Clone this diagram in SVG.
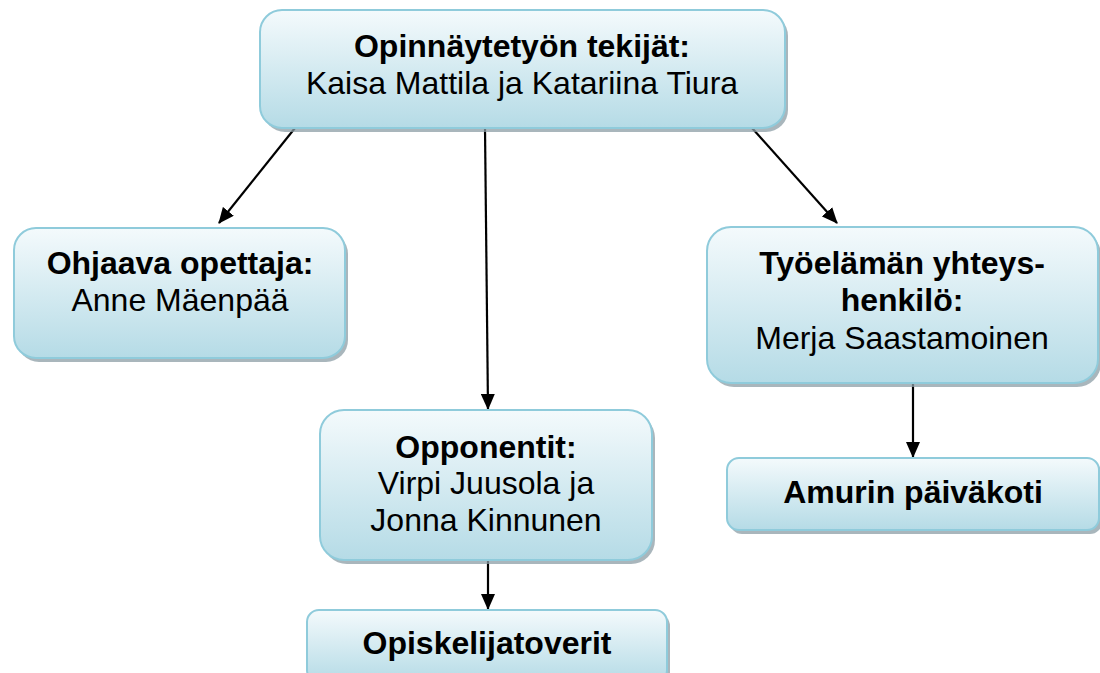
<svg xmlns="http://www.w3.org/2000/svg" width="1100" height="673" viewBox="0 0 1100 673">
<defs>
<linearGradient id="g" x1="0" y1="0" x2="0" y2="1">
<stop offset="0" stop-color="#f4fafc"/>
<stop offset="1" stop-color="#b5dbe6"/>
</linearGradient>
<marker id="ah" markerWidth="16" markerHeight="14" refX="15" refY="7" orient="auto" markerUnits="userSpaceOnUse">
<path d="M0,0 L16,7 L0,14 Z" fill="#000"/>
</marker>
<style>
.box{fill:url(#g);stroke:#8fcbdb;stroke-width:2}
.sh{fill:#8c9ea5;opacity:0.75}
.t{font-family:"Liberation Sans",Arial,sans-serif;font-size:32px;fill:#000;text-anchor:middle}
.b{font-weight:bold}
.c{stroke:#000;stroke-width:2.2;fill:none;marker-end:url(#ah)}
</style>
</defs>
<rect width="1100" height="673" fill="#fff"/>
<g id="connectors">
<line class="c" x1="295" y1="128" x2="219" y2="223"/>
<line class="c" x1="485" y1="128" x2="488" y2="409"/>
<line class="c" x1="752" y1="128" x2="837" y2="223"/>
<line class="c" x1="913" y1="384" x2="913" y2="457"/>
<line class="c" x1="488" y1="561" x2="488" y2="609"/>
</g>
<g id="n-tekijat">
<rect class="sh" x="263" y="14" width="525" height="118" rx="22"/>
<rect class="box" x="260" y="10" width="525" height="118" rx="22"/>
<text class="t b" x="522" y="57">Opinnäytetyön tekijät:</text>
<text class="t" x="522" y="94">Kaisa Mattila ja Katariina Tiura</text>
</g>
<g id="n-ohjaava">
<rect class="sh" x="17" y="232" width="331" height="130" rx="22"/>
<rect class="box" x="14" y="228" width="331" height="130" rx="22"/>
<text class="t b" x="180" y="274">Ohjaava opettaja:</text>
<text class="t" x="180" y="311">Anne Mäenpää</text>
</g>
<g id="n-tyoelama">
<rect class="sh" x="710" y="231" width="391" height="156" rx="24"/>
<rect class="box" x="707" y="227" width="391" height="156" rx="24"/>
<text class="t b" x="902" y="274">Työelämän yhteys-</text>
<text class="t b" x="902" y="311">henkilö:</text>
<text class="t" x="902" y="349">Merja Saastamoinen</text>
</g>
<g id="n-amuri">
<rect class="sh" x="730" y="462" width="372" height="72" rx="12"/>
<rect class="box" x="727" y="458" width="372" height="72" rx="12"/>
<text class="t b" x="913" y="503">Amurin päiväkoti</text>
</g>
<g id="n-opponentit">
<rect class="sh" x="323" y="414" width="332" height="150" rx="24"/>
<rect class="box" x="320" y="410" width="332" height="150" rx="24"/>
<text class="t b" x="486" y="458">Opponentit:</text>
<text class="t" x="486" y="494">Virpi Juusola ja</text>
<text class="t" x="486" y="531">Jonna Kinnunen</text>
</g>
<g id="n-opiskelija">
<rect class="sh" x="310" y="614" width="360" height="72" rx="12"/>
<rect class="box" x="307" y="610" width="360" height="72" rx="12"/>
<text class="t b" x="487" y="654">Opiskelijatoverit</text>
</g>
</svg>
